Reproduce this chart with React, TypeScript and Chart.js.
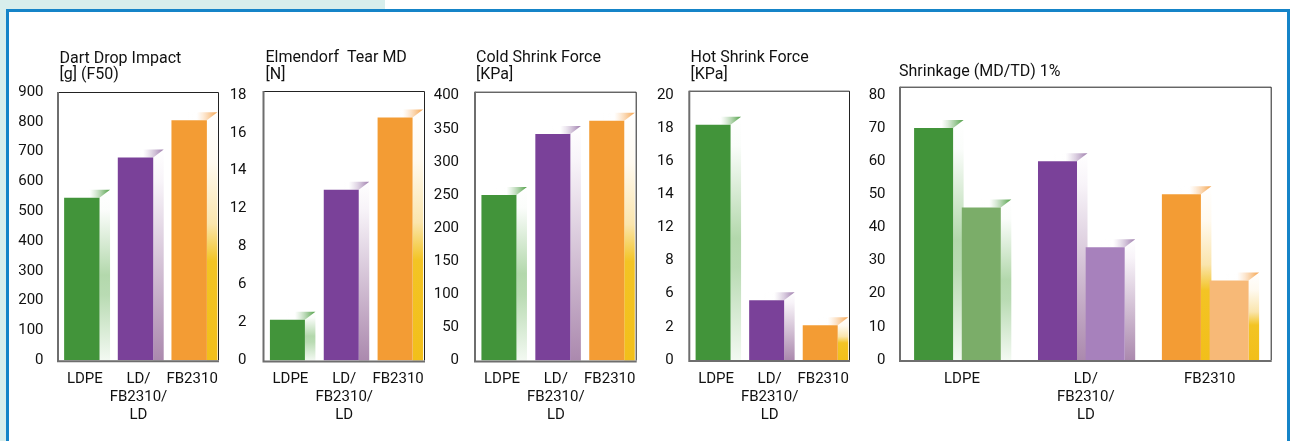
import React, { useEffect, useRef } from 'react';
import { Chart, LinearScale, registerables } from 'chart.js';

Chart.register(...registerables);

// ---------- data ----------
const productLabels: (string | string[])[] = ['LDPE', ['LD/', 'FB2310/', 'LD'], 'FB2310'];
const productFamilies = ['green', 'purple', 'orange'];

const dartDropValues = [545, 680, 805];
const dartDropTicks = [0, 100, 200, 300, 400, 500, 600, 700, 800, 900];

const elmendorfValues = [2.3, 13, 16.8];
const elmendorfTicks = [0, 2, 6, 8, 12, 14, 16, 18];

const coldShrinkValues = [250, 342, 362];
const coldShrinkTicks = [0, 50, 100, 150, 200, 250, 300, 350, 400];

const hotShrinkValues = [18.2, 5.2, 2.2];
const hotShrinkTicks = [0, 2, 6, 8, 12, 14, 16, 18, 20];

const shrinkageMD = [70, 60, 50];
const shrinkageTD = [46, 34, 24];
const shrinkageTicks = [0, 10, 20, 30, 40, 50, 60, 70, 80];

// ---------- style ----------
const W = 1290;
const H = 441;
const Y_W = 50;
const X_H = 70;
const FONT = 'Roboto, "Liberation Sans", Arial, sans-serif';
const TEXT = '#111111';
const TICK_SIZE = 15;
const TITLE_SIZE = 16;

const mainColors: Record<string, string> = { green: '#42943a', purple: '#7a4199', orange: '#f39c34' };
const lightColors: Record<string, string> = { green: '#7bad69', purple: '#a781bc', orange: '#f7b977' };
const capColors: Record<string, string> = { green: '#4c9d42', purple: '#9c7aab', orange: '#f5a24a' };
const sideStops: Record<string, [number, string][]> = {
  green: [[0, '#ffffff'], [0.12, '#fbfdfb'], [0.5, '#b3d8ac'], [0.62, '#b9dbb3'], [1, '#f3f9f2']],
  purple: [[0, '#ffffff'], [0.15, '#f8f4f9'], [1, '#ab89ae']],
  orange: [[0, '#ffffff'], [0.2, '#fffaf0'], [0.45, '#fae5ad'], [0.6, '#f3c424'], [1, '#f2bf1a']],
};
const SIDE = 10.5;
const CAP = 8;

// ---------- piecewise scale (ticks evenly spaced at given values) ----------
class PiecewiseScale extends LinearScale {
  _tv(): number[] {
    return (this.options as any).tickValues as number[];
  }
  _pos(v: number): number {
    const tv = this._tv();
    const n = tv.length;
    if (v <= tv[0]) return (v - tv[0]) / (tv[1] - tv[0]);
    for (let i = 0; i < n - 1; i++) {
      if (v <= tv[i + 1]) return i + (v - tv[i]) / (tv[i + 1] - tv[i]);
    }
    return n - 1 + (v - tv[n - 1]) / (tv[n - 1] - tv[n - 2]);
  }
  determineDataLimits() {
    const tv = this._tv();
    const mx = (this.options as any).max;
    (this as any).min = tv[0];
    (this as any).max = mx !== undefined ? mx : tv[tv.length - 1];
  }
  buildTicks() {
    return this._tv().map((value) => ({ value }));
  }
  getPixelForValue(value: number) {
    if (value === null || value === undefined || isNaN(value)) return NaN;
    const a = this._pos((this as any).min);
    const b = this._pos((this as any).max);
    return this.getPixelForDecimal((this._pos(value) - a) / (b - a));
  }
  getValueForPixel(pixel: number) {
    const tv = this._tv();
    const a = this._pos((this as any).min);
    const b = this._pos((this as any).max);
    const idx = a + this.getDecimalForPixel(pixel) * (b - a);
    const i = Math.max(0, Math.min(tv.length - 2, Math.floor(idx)));
    return tv[i] + (idx - i) * (tv[i + 1] - tv[i]);
  }
}
(PiecewiseScale as any).id = 'piecewise';
(PiecewiseScale as any).defaults = {};
Chart.register(PiecewiseScale as any);

// ---------- decoration plugin ----------
const decoPlugin = {
  id: 'panelDeco',
  afterDatasetsUpdate(chart: any, _args: any, opts: any) {
    const shift = opts.barShift || 0;
    chart.data.datasets.forEach((_ds: any, di: number) => {
      chart.getDatasetMeta(di).data.forEach((el: any) => {
        el.x += shift;
      });
    });
  },
  beforeDatasetsDraw(chart: any) {
    const ctx = chart.ctx;
    ctx.save();
    chart.data.datasets.forEach((_ds: any, di: number) => {
      const meta = chart.getDatasetMeta(di);
      meta.data.forEach((el: any, i: number) => {
        const fam = productFamilies[i];
        const { x, y, base, width } = el.getProps(['x', 'y', 'base', 'width'], true);
        const left = x - width / 2;
        const right = x + width / 2;
        const top = y;
        // side strip
        const g = ctx.createLinearGradient(0, top - CAP, 0, base);
        sideStops[fam].forEach(([o, c]) => g.addColorStop(o, c));
        ctx.fillStyle = g;
        ctx.beginPath();
        ctx.moveTo(right, top);
        ctx.lineTo(right + SIDE, top - CAP);
        ctx.lineTo(right + SIDE, base);
        ctx.lineTo(right, base);
        ctx.closePath();
        ctx.fill();
        // top cap
        const g2 = ctx.createLinearGradient(left + width * 0.4, 0, right + SIDE, 0);
        g2.addColorStop(0, 'rgba(255,255,255,0)');
        g2.addColorStop(0.35, 'rgba(255,255,255,0.6)');
        g2.addColorStop(1, capColors[fam]);
        ctx.fillStyle = g2;
        ctx.beginPath();
        ctx.moveTo(left + SIDE, top - CAP);
        ctx.lineTo(right + SIDE, top - CAP);
        ctx.lineTo(right, top);
        ctx.lineTo(left, top);
        ctx.closePath();
        ctx.fill();
      });
    });
    ctx.restore();
  },
  afterDatasetsDraw(chart: any) {
    const ctx = chart.ctx;
    const { left, right, top, bottom } = chart.chartArea;
    ctx.save();
    ctx.strokeStyle = '#222222';
    ctx.lineWidth = 1;
    ctx.beginPath();
    ctx.moveTo(left, top + 0.5);
    ctx.lineTo(right - 0.5, top + 0.5);
    ctx.lineTo(right - 0.5, bottom);
    ctx.stroke();
    ctx.strokeStyle = '#6e6e6e';
    ctx.lineWidth = 2;
    ctx.beginPath();
    ctx.moveTo(left, top);
    ctx.lineTo(left, bottom + 1);
    ctx.lineTo(right, bottom + 1);
    ctx.stroke();
    ctx.restore();
  },
  afterDraw(chart: any, _args: any, opts: any) {
    const ctx = chart.ctx;
    ctx.save();
    ctx.fillStyle = TEXT;
    ctx.font = `${TITLE_SIZE}px ${FONT}`;
    ctx.textAlign = 'left';
    ctx.textBaseline = 'alphabetic';
    (opts.title as string[]).forEach((line, i) => {
      ctx.fillText(line, opts.titleX, opts.titleY[i]);
    });
    ctx.restore();
  },
};

// ---------- panels ----------
type Series = { data: number[]; tone: 'main' | 'light' };
type PanelCfg = {
  title: string[];
  titleX: number;
  titleY: number[];
  box: { l: number; r: number; t: number; b: number };
  ticks: number[];
  max: number;
  yPad: number;
  series: Series[];
  barPct: number;
  catPct: number;
  barShift: number;
};

const panels: PanelCfg[] = [
  {
    title: ['Dart Drop Impact', '[g] (F50)'], titleX: 59.5, titleY: [62.5, 79],
    box: { l: 58, r: 219, t: 92, b: 360.3 }, ticks: dartDropTicks, max: 900, yPad: 6.5,
    series: [{ data: dartDropValues, tone: 'main' }], barPct: 0.66, catPct: 1, barShift: -3,
  },
  {
    title: ['Elmendorf  Tear MD', '[N]'], titleX: 265.5, titleY: [62, 79],
    box: { l: 263.5, r: 425, t: 91, b: 360.5 }, ticks: elmendorfTicks, max: 18.2, yPad: 9,
    series: [{ data: elmendorfValues, tone: 'main' }], barPct: 0.65, catPct: 1, barShift: -3,
  },
  {
    title: ['Cold Shrink Force', '[KPa]'], titleX: 476, titleY: [62, 79],
    box: { l: 475, r: 636.7, t: 91.7, b: 360.5 }, ticks: coldShrinkTicks, max: 406, yPad: 8,
    series: [{ data: coldShrinkValues, tone: 'main' }], barPct: 0.65, catPct: 1, barShift: -3,
  },
  {
    title: ['Hot Shrink Force', '[KPa]'], titleX: 690.5, titleY: [62, 79],
    box: { l: 689.3, r: 850, t: 90.7, b: 360 }, ticks: hotShrinkTicks, max: 20.25, yPad: 7.5,
    series: [{ data: hotShrinkValues, tone: 'main' }], barPct: 0.653, catPct: 1, barShift: -3,
  },
  {
    title: ['Shrinkage (MD/TD) 1%'], titleX: 899, titleY: [75.5],
    box: { l: 900, r: 1271.7, t: 86.7, b: 360 }, ticks: shrinkageTicks, max: 82.5, yPad: 6.5,
    series: [{ data: shrinkageMD, tone: 'main' }, { data: shrinkageTD, tone: 'light' }],
    barPct: 0.818, catPct: 0.77, barShift: -4.5,
  },
];

function Panel({ cfg }: { cfg: PanelCfg }) {
  const ref = useRef<HTMLCanvasElement>(null);
  useEffect(() => {
    const chart = new Chart(ref.current as HTMLCanvasElement, {
      type: 'bar',
      data: {
        labels: productLabels as any,
        datasets: cfg.series.map((s) => ({
          data: s.data,
          backgroundColor: productFamilies.map((f) => (s.tone === 'light' ? lightColors[f] : mainColors[f])),
          borderWidth: 0,
          barPercentage: cfg.barPct,
          categoryPercentage: cfg.catPct,
        })),
      },
      options: {
        responsive: false,
        animation: false,
        events: [],
        layout: {
          padding: {
            left: cfg.box.l - Y_W,
            right: W - cfg.box.r,
            top: cfg.box.t,
            bottom: H - cfg.box.b - X_H,
          },
        },
        scales: {
          x: {
            type: 'category',
            grid: { display: false },
            border: { display: false },
            ticks: {
              padding: 2,
              maxRotation: 0,
              minRotation: 0,
              autoSkip: false,
              color: TEXT,
              font: { family: FONT, size: TICK_SIZE, lineHeight: 1.2 },
            },
            afterFit: (s: any) => { s.height = X_H; },
          },
          y: {
            type: 'piecewise' as any,
            tickValues: cfg.ticks,
            max: cfg.max,
            grid: { display: false },
            border: { display: false },
            ticks: {
              padding: cfg.yPad,
              color: TEXT,
              font: { family: FONT, size: TICK_SIZE },
              callback: (v: any) => String(v),
            },
            afterFit: (s: any) => { s.width = Y_W; },
          } as any,
        },
        plugins: {
          legend: { display: false },
          tooltip: { enabled: false },
          panelDeco: { title: cfg.title, titleX: cfg.titleX, titleY: cfg.titleY, barShift: cfg.barShift },
        } as any,
      },
      plugins: [decoPlugin as any],
    });
    return () => chart.destroy();
  }, [cfg]);
  return <canvas ref={ref} width={W} height={H} style={{ position: 'absolute', left: 0, top: 0 }} />;
}

export default function App() {
  return (
    <div style={{ position: 'fixed', left: 0, top: 0, width: W, height: H, background: '#ffffff', overflow: 'hidden' }}>
      <div style={{ position: 'absolute', left: 0, top: 0, width: 385, height: 9, background: '#d8eeec' }} />
      <div style={{ position: 'absolute', left: 0, top: 0, width: 6, height: H, background: '#d8eeec' }} />
      <div
        style={{
          position: 'absolute', left: 6, top: 9, width: W - 6, height: H + 20,
          border: '3px solid #1584c8', boxSizing: 'border-box',
        }}
      />
      {panels.map((p, i) => (
        <Panel key={i} cfg={p} />
      ))}
    </div>
  );
}
